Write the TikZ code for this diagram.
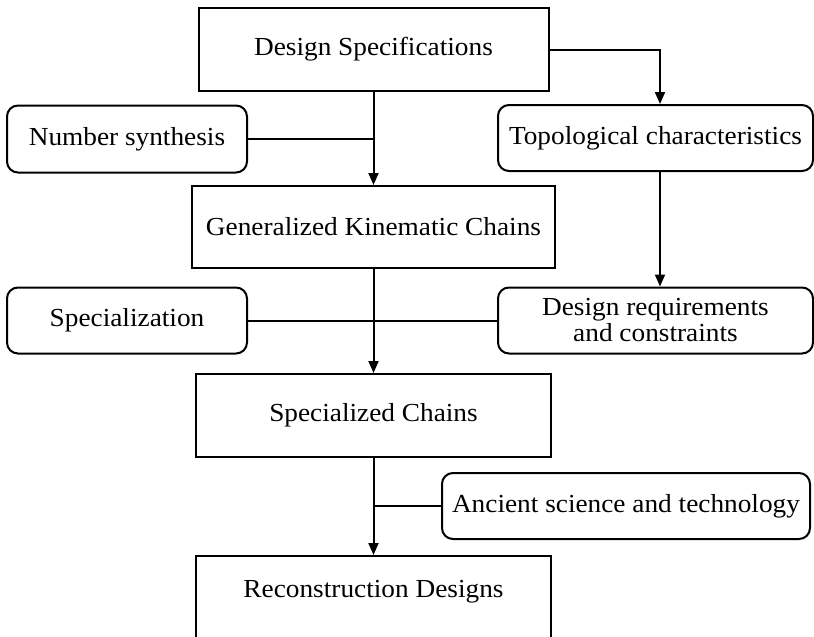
\documentclass[tikz,border=0pt]{standalone}
\usepackage{fontspec}
\setmainfont[FakeStretch=1.05]{Liberation Serif}
\usetikzlibrary{arrows.meta}
\begin{document}
\begin{tikzpicture}[x=1pt,y=-1pt,
  every node/.style={font=\fontsize{26}{26}\selectfont, inner sep=0pt, align=center},
  sqbox/.style={draw, line width=2pt, rectangle},
  rbox/.style={draw, line width=2pt, rectangle, rounded corners=11pt},
  conn/.style={line width=2pt},
  arr/.style={line width=2pt, -{Triangle[length=12pt,width=10pt]}}]
\useasboundingbox (0,0) rectangle (814,637);
\node[sqbox, minimum width=350pt, minimum height=83pt] (ds) at (373.5,49.5) {Design Specifications};
\node[rbox, minimum width=240pt, minimum height=67pt] (ns) at (127,139) {Number synthesis};
\node[rbox, minimum width=315pt, minimum height=66pt] (tc) at (655.5,138) {Topological characteristics};
\node[sqbox, minimum width=363pt, minimum height=82pt] (gkc) at (373.5,227) {Generalized Kinematic Chains};
\node[rbox, minimum width=240pt, minimum height=66pt] (sp) at (127,320.5) {Specialization};
\node[rbox, minimum width=315pt, minimum height=66pt] (drc) at (655.5,320.5) {Design requirements\\and constraints};
\node[sqbox, minimum width=355pt, minimum height=83pt] (sc) at (373.5,415.5) {Specialized Chains};
\node[rbox, minimum width=368pt, minimum height=66pt] (anc) at (626,506) {Ancient science and technology};
\node[sqbox, minimum width=355pt, minimum height=83pt] (rd) at (373.5,597.5) {};
\node (rdt) at (373.5,592) {Reconstruction Designs};
\coordinate (tcin) at (660,0);
\draw[arr] (ds.east) -| (tcin |- tc.north);
\draw[arr] (ds.south) -- (gkc.north);
\draw[conn] (ns.east) -- (ns.east -| ds.south);
\draw[arr] (gkc.south) -- (sc.north);
\draw[conn] (sp.east) -- (drc.west);
\draw[arr] (tcin |- tc.south) -- (tcin |- drc.north);
\draw[arr] (sc.south) -- (rd.north);
\draw[conn] (anc.west) -- (anc.west -| sc.south);
\end{tikzpicture}
\end{document}
